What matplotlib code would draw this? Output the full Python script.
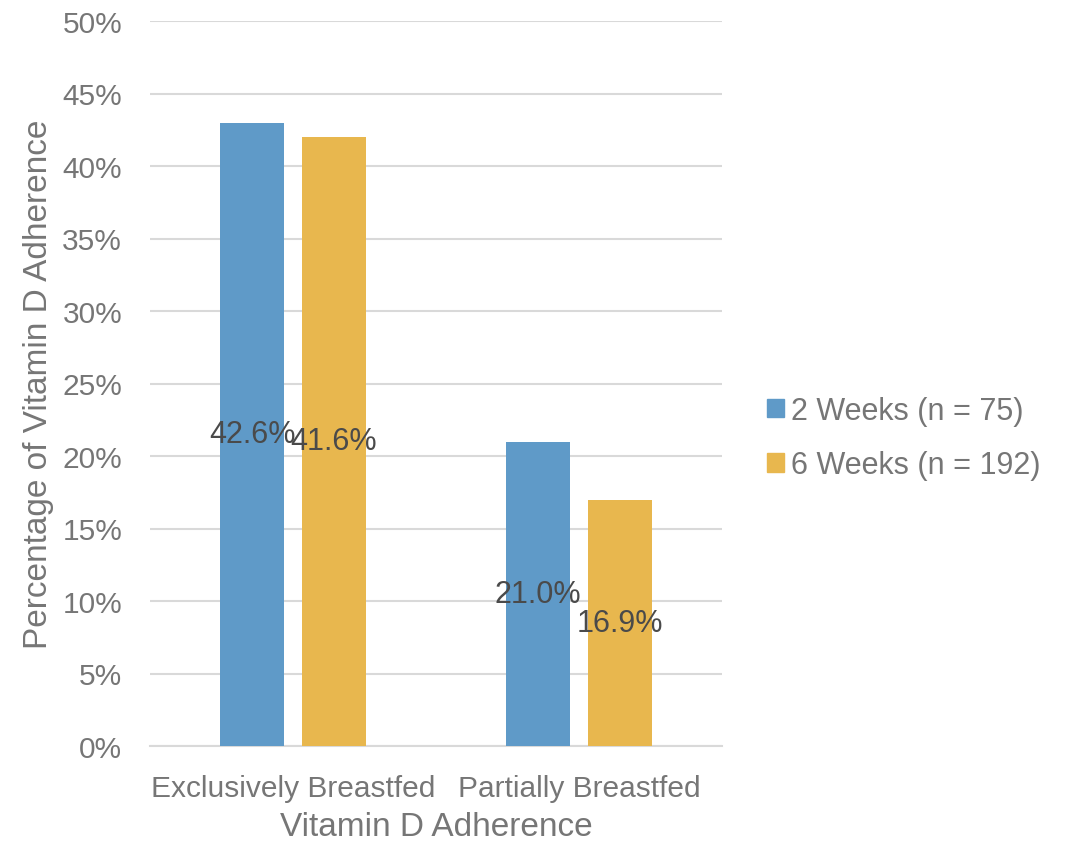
import matplotlib
matplotlib.use('Agg')
import matplotlib.pyplot as plt
from matplotlib.patches import Patch
import numpy as np

# chart data
categories = ['Exclusively Breastfed', 'Partially Breastfed']
series = ['2 Weeks (n = 75)', '6 Weeks (n = 192)']
bar_heights = [[43, 21], [42, 17]]          # drawn bar heights (%)
bar_labels = [['42.6%', '21.0%'], ['41.6%', '16.9%']]  # data label text
yticks = [0, 5, 10, 15, 20, 25, 30, 35, 40, 45, 50]

colors = ['#5F9AC8', '#E8B74E']
grey = '#767676'

plt.rcParams['font.family'] = ['Liberation Sans', 'DejaVu Sans']

fig = plt.figure(figsize=(10.66, 8.45), dpi=100)
ax = fig.add_axes([150/1066, 98/845, 572/1066, 725/845])

x = np.arange(len(categories))
width = 0.224
offsets = [-0.143, 0.143]

for i, s in enumerate(series):
    bars = ax.bar(x + offsets[i], bar_heights[i], width, color=colors[i],
                  zorder=3, label=s)
    for b, lab in zip(bars, bar_labels[i]):
        ax.text(b.get_x() + b.get_width()/2, b.get_height()/2, lab,
                ha='center', va='center', fontsize=22, color='#4A4A4A', zorder=4)

ax.set_xlim(-0.5, 1.5)
ax.set_ylim(0, 50)
ax.set_yticks(yticks)
ax.set_yticklabels(['%d%%' % t for t in yticks])
ax.set_xticks(x)
ax.set_xticklabels(categories, fontsize=21.5, color=grey)
ax.tick_params(axis='y', length=0, pad=20, labelsize=21.5, labelcolor=grey)
ax.tick_params(axis='x', length=0, pad=20)

ax.yaxis.grid(True, color='#D9D9D9', linewidth=1.5, zorder=0)
for sp in ['top', 'right', 'left']:
    ax.spines[sp].set_visible(False)
ax.spines['bottom'].set_color('#D9D9D9')
ax.spines['bottom'].set_linewidth(1.5)

ax.set_xlabel('Vitamin D Adherence', fontsize=24, color=grey, labelpad=7)
ax.set_ylabel('Percentage of Vitamin D Adherence', fontsize=24,
              color=grey, labelpad=6)

handles = [Patch(color=c) for c in colors]
leg = fig.legend(handles, series, loc='center left',
                 bbox_to_anchor=(767/1066, 1 - 439/845), frameon=False,
                 fontsize=22, handlelength=0.55, handleheight=0.55,
                 handletextpad=0.25, labelspacing=0.8, borderpad=0,
                 borderaxespad=0)
for t in leg.get_texts():
    t.set_color(grey)

fig.savefig('out.png', dpi=100)
